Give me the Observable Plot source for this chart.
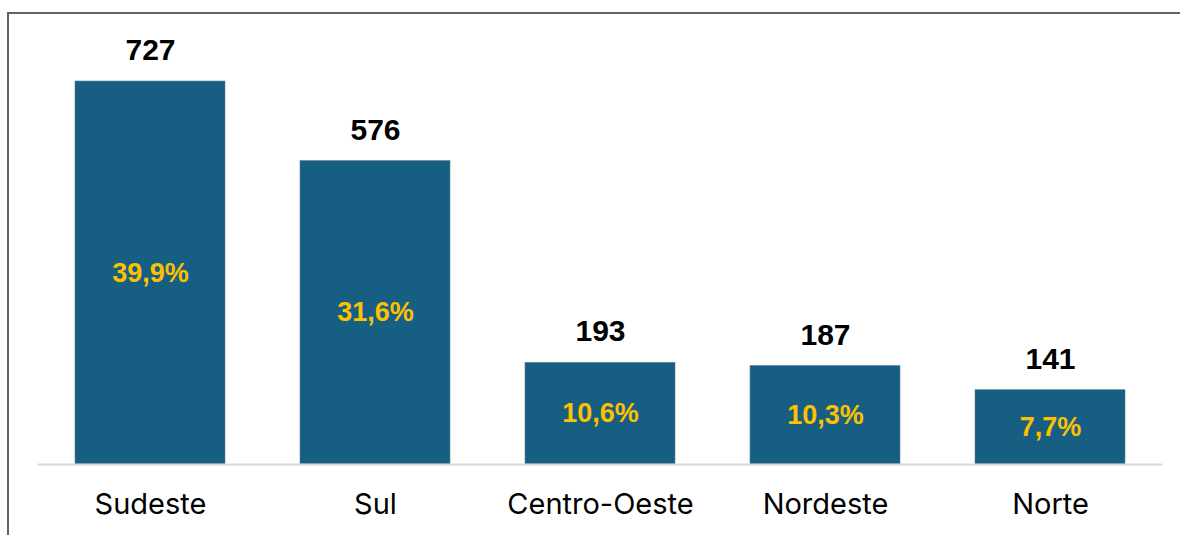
<!DOCTYPE html>
<html>
<head>
<meta charset="utf-8">
<script src="https://cdn.jsdelivr.net/npm/d3@7"></script>
<script src="https://cdn.jsdelivr.net/npm/@observablehq/plot@0.6"></script>
<style>
  html, body { margin: 0; padding: 0; background: #fff; overflow: hidden; }
  #frame { position: absolute; left: 7px; top: 12px; width: 1300px; height: 700px; border: 2px solid #636363; box-sizing: border-box; pointer-events: none; }
  #chart { position: absolute; left: 0; top: 0; }
</style>
</head>
<body>
<div id="chart"></div>
<div id="frame"></div>
<script>
const regions = ["Sudeste", "Sul", "Centro-Oeste", "Nordeste", "Norte"];
const counts = [727, 576, 193, 187, 141];
const shares = ["39,9%", "31,6%", "10,6%", "10,3%", "7,7%"];

const data = regions.map((r, i) => ({region: r, value: counts[i], share: shares[i]}));

const chart = Plot.plot({
  width: 1180,
  height: 535,
  marginTop: 81,
  marginBottom: 71,
  marginLeft: 37.5,
  marginRight: 17.5,
  style: {fontFamily: "Inter, 'Liberation Sans', sans-serif", background: "transparent"},
  x: {domain: regions, paddingInner: 1/3, paddingOuter: 1/6, label: null},
  y: {domain: [0, 727], axis: null},
  marks: [
    Plot.barY(data, {x: "region", y: "value", fill: "#175F82", stroke: "#5f7f92", strokeWidth: 0.6}),
    Plot.ruleY([0], {stroke: "#d9d9d9", strokeWidth: 2}),
    Plot.text(data, {x: "region", y: "value", text: d => String(d.value), dy: -31, fontSize: 30, fontWeight: "bold", fill: "#000", fontFamily: "'Liberation Sans', Arial, sans-serif"}),
    Plot.text(data, {x: "region", y: d => d.value / 2, text: "share", fontSize: 27, fontWeight: "bold", fill: "#FFC000", fontFamily: "'Liberation Sans', Arial, sans-serif"}),
    Plot.axisX({tickSize: 0, tickPadding: 29, fontSize: 29, fill: "#000", label: null})
  ]
});
document.getElementById("chart").appendChild(chart);
</script>
</body>
</html>
